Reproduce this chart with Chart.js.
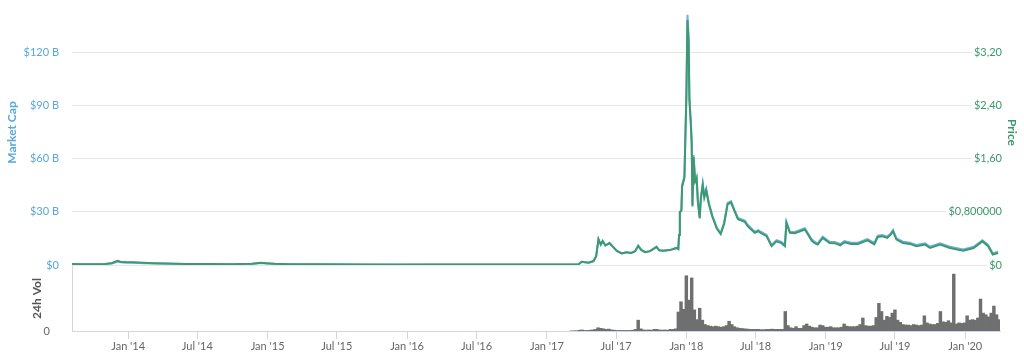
<!DOCTYPE html>
<html>
<head>
<meta charset="utf-8">
<script src="https://cdn.jsdelivr.net/npm/chart.js@4"></script>
<style>
  html, body { margin: 0; padding: 0; background: #fff; }
  #topBox { position: absolute; left: 0; top: 0; width: 1024px; height: 276px; }
  #volBox { position: absolute; left: 0; top: 264px; width: 1024px; height: 99px; }
</style>
</head>
<body>
<div id="topBox"><canvas id="priceChart"></canvas></div>
<div id="volBox"><canvas id="volChart"></canvas></div>
<script>
// dates of the line samples
const lineDates = [
    '2013-08-04', '2013-09-01', '2013-10-01', '2013-11-01', '2013-11-20', '2013-12-04', '2013-12-12', '2013-12-25',
    '2014-01-15', '2014-02-10', '2014-03-10', '2014-04-15', '2014-06-01', '2014-08-01', '2014-10-01', '2014-11-20',
    '2014-12-15', '2014-12-28', '2015-01-20', '2015-03-01', '2015-06-01', '2015-09-01', '2015-12-01', '2016-03-01',
    '2016-06-01', '2016-09-01', '2016-12-01', '2017-02-01', '2017-03-25', '2017-04-02', '2017-04-20', '2017-05-03',
    '2017-05-10', '2017-05-16', '2017-05-22', '2017-05-27', '2017-06-03', '2017-06-14', '2017-06-22', '2017-07-03',
    '2017-07-16', '2017-07-28', '2017-08-10', '2017-08-20', '2017-08-28', '2017-09-05', '2017-09-15', '2017-09-28',
    '2017-10-15', '2017-10-22', '2017-11-01', '2017-11-19', '2017-12-06', '2017-12-11', '2017-12-13', '2017-12-15',
    '2017-12-19', '2017-12-21', '2017-12-27', '2017-12-30', '2018-01-01', '2018-01-04', '2018-01-07', '2018-01-09',
    '2018-01-13', '2018-01-15', '2018-01-17', '2018-01-20', '2018-01-24', '2018-01-28', '2018-01-31', '2018-02-05',
    '2018-02-08', '2018-02-13', '2018-02-17', '2018-02-22', '2018-03-01', '2018-03-10', '2018-03-22', '2018-04-01',
    '2018-04-10', '2018-04-19', '2018-04-28', '2018-05-07', '2018-05-16', '2018-06-03', '2018-06-11', '2018-06-29',
    '2018-07-08', '2018-07-16', '2018-07-30', '2018-08-12', '2018-08-25', '2018-09-07', '2018-09-16', '2018-09-20',
    '2018-09-29', '2018-10-12', '2018-11-07', '2018-11-15', '2018-11-25', '2018-12-03', '2018-12-11', '2018-12-24',
    '2019-01-11', '2019-01-24', '2019-02-08', '2019-02-19', '2019-03-08', '2019-03-26', '2019-04-20', '2019-05-08',
    '2019-05-17', '2019-05-29', '2019-06-11', '2019-06-20', '2019-06-26', '2019-07-05', '2019-07-22', '2019-08-09',
    '2019-08-26', '2019-09-18', '2019-10-01', '2019-10-27', '2019-11-22', '2019-12-27', '2020-01-23', '2020-02-15',
    '2020-03-01', '2020-03-13', '2020-03-27'
];

// market cap, billions of $
const marketCap = [
    0.45, 0.40, 0.38, 0.45, 0.9, 2.0, 1.5, 1.3,
    1.2, 1.0, 0.8, 0.7, 0.5, 0.45, 0.45, 0.6,
    1.1, 0.9, 0.6, 0.4, 0.35, 0.25, 0.2, 0.3,
    0.25, 0.25, 0.25, 0.25, 0.4, 1.8, 1.3, 2.2,
    5.0, 14.5, 11.5, 13.5, 11.0, 12.4, 10.5, 8.0,
    6.5, 7.2, 6.8, 7.8, 10.8, 8.5, 7.2, 7.8,
    10.2, 8.3, 8.0, 8.4, 9.6, 9.0, 17.0, 30.0,
    31.0, 45.0, 50.0, 78.0, 95.0, 141.0, 128.0, 95.0,
    80.0, 70.0, 34.0, 62.0, 48.0, 50.0, 37.0, 27.0,
    38.0, 46.0, 39.0, 43.0, 35.0, 28.0, 21.0, 18.0,
    24.0, 35.0, 36.0, 31.0, 26.5, 25.0, 22.5, 18.8,
    19.7, 18.6, 16.9, 11.3, 14.0, 13.0, 11.3, 24.4,
    18.8, 18.6, 20.7, 18.0, 14.5, 13.0, 12.2, 16.0,
    13.1, 13.0, 11.8, 13.5, 12.5, 12.6, 14.6, 12.4,
    16.5, 16.9, 16.0, 17.8, 19.7, 15.0, 13.1, 12.6,
    11.3, 12.2, 10.3, 12.2, 10.3, 8.8, 10.3, 14.0,
    11.3, 6.6, 7.5
];

// price, $
const price = [
    0.014, 0.012, 0.012, 0.014, 0.030, 0.064, 0.050, 0.045,
    0.040, 0.033, 0.026, 0.021, 0.015, 0.014, 0.013, 0.018,
    0.033, 0.027, 0.018, 0.012, 0.010, 0.007, 0.006, 0.008,
    0.007, 0.007, 0.007, 0.007, 0.011, 0.048, 0.035, 0.059,
    0.133, 0.387, 0.307, 0.360, 0.293, 0.330, 0.280, 0.213,
    0.173, 0.192, 0.181, 0.208, 0.288, 0.227, 0.192, 0.208,
    0.272, 0.221, 0.213, 0.224, 0.256, 0.240, 0.450, 0.790,
    0.815, 1.180, 1.310, 2.040, 2.490, 3.680, 3.350, 2.480,
    2.080, 1.820, 0.880, 1.620, 1.250, 1.300, 0.960, 0.700,
    0.990, 1.200, 1.010, 1.120, 0.910, 0.725, 0.545, 0.465,
    0.620, 0.910, 0.941, 0.808, 0.688, 0.648, 0.581, 0.483,
    0.507, 0.477, 0.432, 0.283, 0.355, 0.328, 0.283, 0.632,
    0.483, 0.477, 0.533, 0.461, 0.368, 0.328, 0.307, 0.408,
    0.331, 0.328, 0.296, 0.341, 0.315, 0.317, 0.371, 0.312,
    0.421, 0.432, 0.408, 0.456, 0.507, 0.381, 0.331, 0.317,
    0.283, 0.307, 0.256, 0.307, 0.256, 0.216, 0.256, 0.355,
    0.283, 0.157, 0.181
];

// 24h volume, billions of $, one bar per week from volStart
const volStart = '2017-03-06';
const volume = [
    0.02, 0.03, 0.05, 0.15,
    0.2, 0.1, 0.1, 0.15,
    0.2, 0.3, 0.6, 0.5, 0.4,
    0.3, 0.35, 0.2, 0.15,
    0.1, 0.1, 0.1, 0.1, 0.1,
    0.1, 0.15, 0.3, 2.0,
    0.4, 0.2, 0.15, 0.2,
    0.15, 0.3, 0.3, 0.2, 0.15,
    0.2, 0.15, 0.3, 0.3,
    0.4, 3.5, 5.4, 4.0,
    10.2, 5.7, 9.8, 3.9, 2.1,
    4.2, 2.0, 1.2, 1.0,
    0.9, 0.8, 0.9, 0.8,
    0.7, 0.8, 1.0, 1.8, 1.2,
    0.8, 0.6, 0.5, 0.45,
    0.4, 0.35, 0.3, 0.3,
    0.3, 0.3, 0.25, 0.25, 0.3,
    0.3, 0.35, 0.3, 0.3,
    0.3, 0.3, 3.6, 1.0,
    0.6, 0.5, 0.8, 0.5, 0.5,
    1.0, 1.3, 0.9, 0.7,
    0.6, 0.6, 1.1, 1.0, 0.7,
    0.7, 0.8, 0.6, 0.6,
    0.6, 0.7, 1.3, 0.9,
    0.8, 0.8, 0.8, 0.9,
    1.2, 2.4, 1.0, 0.9, 0.9,
    1.0, 2.5, 5.1, 3.6,
    2.0, 2.7, 2.5, 3.3,
    3.9, 2.0, 1.6, 1.2, 1.1,
    1.1, 1.0, 1.2, 1.1,
    1.0, 1.1, 2.8, 1.5, 1.3,
    1.2, 1.2, 1.4, 3.6,
    1.7, 1.6, 1.9, 1.5,
    10.5, 1.3, 1.5, 1.4, 1.5,
    2.8, 2.0, 2.1, 2.0,
    2.4, 5.9, 3.3, 3.0,
    2.6, 3.3, 4.6, 3.0, 2.1
];

const xTickDates = ['2014-01-01', '2014-07-01', '2015-01-01', '2015-07-01', '2016-01-01', '2016-07-01', '2017-01-01',
    '2017-07-01', '2018-01-01', '2018-07-01', '2019-01-01', '2019-07-01', '2020-01-01'];
const xTickLabels = ["Jan '14", "Jul '14", "Jan '15", "Jul '15", "Jan '16", "Jul '16", "Jan '17",
    "Jul '17", "Jan '18", "Jul '18", "Jan '19", "Jul '19", "Jan '20"];

const mcapTicks = [0, 30, 60, 90, 120];
const mcapLabels = ['$0', '$30 B', '$60 B', '$90 B', '$120 B'];
const priceTicks = [0, 0.8, 1.6, 2.4, 3.2];
const priceLabels = ['$0', '$0,800000', '$1,60', '$2,40', '$3,20'];
const volTicks = [0];
const volLabels = ['0'];

const blue = '#6cb0e6';
const blueText = '#5aa6df';
const green = '#3e9a6e';
const greenText = '#3a986a';
const grey = '#666666';

const day = d => Date.parse(d) / 864e5;
const xMin = day('2013-08-07');
const xMax = day('2020-04-01');
const tickDays = xTickDates.map(day);

Chart.defaults.font.family = 'Lato, "Open Sans", sans-serif';
Chart.defaults.font.size = 11;
Chart.defaults.animation = false;

function fixTicks(values) {
    return scale => { scale.ticks = values.map(v => ({ value: v })); };
}
function labelFrom(values, labels) {
    return v => {
        const i = values.findIndex(t => Math.abs(t - v) < 1e-6);
        return i < 0 ? '' : labels[i];
    };
}
// ширина оси задана жёстко, без запаса под крайние подписи
function fixWidth(w) {
    return s => { s.width = w; s.paddingTop = 0; s.paddingBottom = 0; };
}

// Верхняя панель: капитализация и цена
new Chart(document.getElementById('priceChart'), {
    type: 'line',
    data: {
        datasets: [{
            label: 'Price',
            data: lineDates.map((d, i) => ({ x: day(d), y: price[i] })),
            yAxisID: 'yPrice',
            borderColor: green,
            borderWidth: 2,
            pointRadius: 0,
            tension: 0
        }, {
            label: 'Market Cap',
            data: lineDates.map((d, i) => ({ x: day(d), y: marketCap[i] })),
            yAxisID: 'yCap',
            borderColor: blue,
            borderWidth: 2,
            pointRadius: 0,
            tension: 0
        }]
    },
    options: {
        responsive: true,
        maintainAspectRatio: false,
        layout: { padding: { top: 0, bottom: 11, left: 0, right: 0 } },
        plugins: { legend: { display: false }, tooltip: { enabled: false } },
        scales: {
            x: { type: 'linear', min: xMin, max: xMax, display: false },
            yCap: {
                position: 'left',
                min: 0,
                max: 149.3,
                afterBuildTicks: fixTicks(mcapTicks),
                afterFit: fixWidth(72),
                ticks: { color: blueText, padding: 13, callback: labelFrom(mcapTicks, mcapLabels) },
                grid: { color: '#e6e6e6', drawTicks: false },
                border: { display: false },
                title: {
                    display: true, text: 'Market Cap', color: blueText,
                    font: { size: 12, weight: 'bold' }, padding: { top: 5, bottom: 0 }
                }
            },
            yPrice: {
                position: 'right',
                min: 0,
                max: 3.981,
                afterBuildTicks: fixTicks(priceTicks),
                afterFit: fixWidth(24),
                ticks: {
                    color: greenText, mirror: true, padding: 2,
                    showLabelBackdrop: true, backdropColor: '#ffffff', backdropPadding: 2,
                    callback: labelFrom(priceTicks, priceLabels)
                },
                grid: { display: false },
                border: { display: false },
                title: {
                    display: true, text: 'Price', color: greenText,
                    font: { size: 12, weight: 'bold' }, padding: { top: 5, bottom: 0 }
                }
            }
        }
    }
});

// Нижняя панель: объём за 24 часа
new Chart(document.getElementById('volChart'), {
    type: 'bar',
    data: {
        datasets: [{
            label: '24h Vol',
            data: volume.map((v, i) => ({ x: day(volStart) + 7 * i, y: v })),
            backgroundColor: '#6f6f6f',
            barThickness: 2.8,
            borderWidth: 0
        }]
    },
    options: {
        responsive: true,
        maintainAspectRatio: false,
        layout: { padding: { top: 2, bottom: 0, left: 0, right: 24 } },
        plugins: { legend: { display: false }, tooltip: { enabled: false } },
        scales: {
            x: {
                type: 'linear',
                min: xMin,
                max: xMax,
                offset: false,
                afterBuildTicks: fixTicks(tickDays),
                afterFit: s => { s.height = 32; s.paddingLeft = 0; s.paddingRight = 0; },
                ticks: { color: grey, padding: 1, autoSkip: false, maxRotation: 0, callback: labelFrom(tickDays, xTickLabels) },
                grid: { offset: false, drawOnChartArea: false, drawTicks: true, tickLength: 8, color: '#ccd6eb' },
                border: { color: '#ccd6eb' }
            },
            y: {
                min: 0,
                max: 12,
                afterBuildTicks: fixTicks(volTicks),
                afterFit: fixWidth(72),
                ticks: { color: grey, padding: 14, callback: labelFrom(volTicks, volLabels) },
                grid: { display: false },
                border: { color: '#d6d6d6' },
                title: {
                    display: true, text: '24h Vol', color: '#555555',
                    font: { size: 12, weight: 'bold' }, padding: { top: 30, bottom: 0 }
                }
            }
        }
    }
});
</script>
</body>
</html>
